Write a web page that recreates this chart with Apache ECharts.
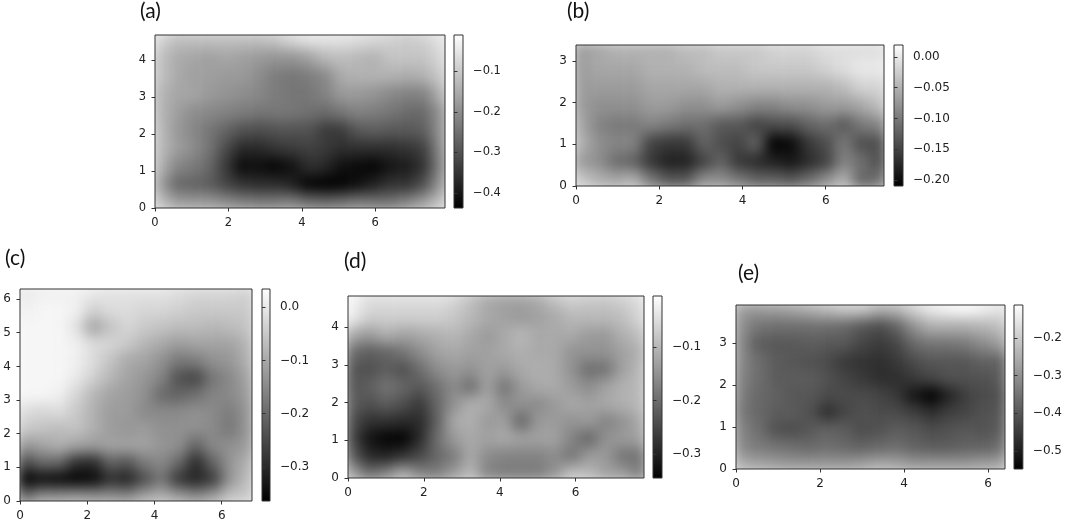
<!DOCTYPE html>
<html>
<head>
<meta charset="utf-8">
<style>
  html, body { margin: 0; padding: 0; background: #fff; }
  #main { width: 1065px; height: 523px; }
</style>
<script src="https://cdn.jsdelivr.net/npm/echarts@6/dist/echarts.min.js"></script>
</head>
<body>
<div id="main"></div>
<script>
// rows run from the top of each panel down to y = 0
const valuesA = [
  [-.08,-.12,-.12,-.12,-.12,-.12,-.12,-.11,-.08,-.06,-.06,-.06,-.07,-.08,-.09,-.10,-.09,-.06],
  [-.11,-.15,-.16,-.17,-.16,-.17,-.18,-.19,-.19,-.17,-.13,-.12,-.13,-.14,-.11,-.11,-.11,-.08],
  [-.11,-.15,-.17,-.17,-.18,-.18,-.20,-.23,-.24,-.23,-.21,-.15,-.14,-.14,-.14,-.15,-.14,-.10],
  [-.13,-.16,-.16,-.18,-.19,-.20,-.21,-.23,-.24,-.24,-.22,-.18,-.18,-.19,-.21,-.22,-.22,-.14],
  [-.13,-.17,-.20,-.21,-.22,-.23,-.24,-.24,-.24,-.25,-.26,-.24,-.22,-.23,-.24,-.26,-.26,-.19],
  [-.12,-.18,-.21,-.24,-.27,-.30,-.31,-.30,-.30,-.30,-.34,-.34,-.29,-.28,-.29,-.29,-.28,-.19],
  [-.12,-.17,-.20,-.24,-.31,-.37,-.37,-.35,-.34,-.33,-.34,-.36,-.36,-.36,-.36,-.35,-.33,-.20],
  [-.13,-.21,-.23,-.26,-.34,-.42,-.41,-.43,-.41,-.36,-.37,-.41,-.42,-.43,-.40,-.39,-.35,-.21],
  [-.16,-.26,-.27,-.28,-.32,-.35,-.36,-.36,-.38,-.43,-.44,-.43,-.41,-.38,-.35,-.35,-.30,-.18],
  [-.11,-.17,-.18,-.18,-.20,-.22,-.23,-.23,-.22,-.25,-.26,-.25,-.23,-.24,-.24,-.21,-.17,-.11]
];
const valuesB = [
  [-.07,-.06,-.05,-.05,-.05,-.05,-.04,-.04,-.03,-.03,-.03,-.02,-.02,-.02,-.01,-.01,-.01,-.01],
  [-.07,-.06,-.06,-.06,-.05,-.05,-.05,-.04,-.04,-.04,-.03,-.03,-.03,-.03,-.02,-.01,.00,.00],
  [-.07,-.07,-.07,-.07,-.06,-.06,-.06,-.06,-.05,-.05,-.05,-.05,-.05,-.05,-.05,-.04,-.02,-.02],
  [-.07,-.08,-.08,-.08,-.07,-.07,-.08,-.08,-.07,-.08,-.09,-.09,-.08,-.08,-.07,-.07,-.06,-.04],
  [-.06,-.09,-.10,-.10,-.09,-.10,-.11,-.11,-.13,-.13,-.15,-.14,-.14,-.12,-.11,-.13,-.10,-.09],
  [-.05,-.08,-.09,-.09,-.15,-.16,-.16,-.12,-.14,-.15,-.12,-.21,-.20,-.16,-.14,-.10,-.14,-.14],
  [-.07,-.08,-.11,-.12,-.16,-.18,-.18,-.15,-.12,-.16,-.17,-.18,-.19,-.17,-.15,-.09,-.11,-.14],
  [-.03,-.05,-.06,-.05,-.10,-.13,-.13,-.08,-.08,-.10,-.12,-.12,-.13,-.11,-.08,-.05,-.12,-.11]
];
const valuesC = [
  [.00,.01,.01,.01,.00,-.01,-.01,-.01,-.01,-.02,-.03,-.03,-.03,-.04],
  [.01,.02,.02,.01,-.04,-.02,-.02,-.03,-.03,-.04,-.05,-.05,-.05,-.05],
  [.02,.02,.02,-.01,-.11,-.06,-.03,-.05,-.06,-.07,-.07,-.08,-.07,-.06],
  [.02,.02,.02,.01,-.02,-.03,-.05,-.08,-.10,-.12,-.11,-.11,-.11,-.08],
  [.02,.02,.02,.01,-.02,-.06,-.10,-.11,-.14,-.18,-.17,-.14,-.13,-.09],
  [.02,.02,.02,.00,-.04,-.08,-.11,-.13,-.16,-.24,-.26,-.18,-.15,-.11],
  [.02,.02,.01,-.03,-.08,-.11,-.12,-.14,-.20,-.21,-.19,-.16,-.15,-.12],
  [-.02,-.03,-.02,-.05,-.09,-.12,-.12,-.15,-.15,-.15,-.14,-.15,-.17,-.13],
  [-.05,-.06,-.07,-.06,-.09,-.12,-.13,-.12,-.14,-.14,-.14,-.15,-.18,-.13],
  [-.13,-.11,-.09,-.11,-.12,-.11,-.11,-.11,-.13,-.14,-.21,-.15,-.14,-.12],
  [-.25,-.20,-.20,-.29,-.30,-.21,-.23,-.17,-.15,-.20,-.30,-.21,-.13,-.09],
  [-.36,-.34,-.35,-.36,-.35,-.29,-.31,-.24,-.18,-.28,-.31,-.27,-.13,-.07],
  [-.20,-.14,-.14,-.13,-.14,-.14,-.15,-.11,-.09,-.12,-.15,-.12,-.06,-.05]
];
const valuesD = [
  [-.02,-.05,-.05,-.05,-.05,-.05,-.06,-.09,-.12,-.13,-.13,-.12,-.09,-.07,-.08,-.08,-.07,-.05],
  [-.03,-.07,-.07,-.07,-.07,-.07,-.08,-.10,-.12,-.13,-.14,-.13,-.12,-.10,-.10,-.10,-.09,-.06],
  [-.12,-.14,-.11,-.13,-.12,-.11,-.10,-.12,-.14,-.12,-.10,-.12,-.12,-.12,-.14,-.14,-.11,-.09],
  [-.20,-.22,-.21,-.19,-.16,-.13,-.12,-.13,-.13,-.12,-.11,-.12,-.12,-.15,-.15,-.15,-.13,-.11],
  [-.23,-.24,-.22,-.24,-.20,-.16,-.14,-.15,-.13,-.14,-.12,-.11,-.12,-.15,-.20,-.19,-.13,-.10],
  [-.23,-.22,-.19,-.21,-.23,-.20,-.16,-.20,-.13,-.19,-.14,-.12,-.12,-.14,-.16,-.13,-.11,-.10],
  [-.22,-.24,-.22,-.24,-.27,-.21,-.15,-.11,-.12,-.16,-.15,-.16,-.14,-.12,-.13,-.12,-.11,-.10],
  [-.24,-.28,-.28,-.29,-.29,-.22,-.12,-.11,-.14,-.13,-.21,-.14,-.14,-.15,-.14,-.17,-.15,-.12],
  [-.25,-.32,-.34,-.36,-.29,-.20,-.14,-.12,-.13,-.12,-.13,-.13,-.13,-.17,-.21,-.15,-.14,-.13],
  [-.22,-.29,-.30,-.28,-.25,-.21,-.18,-.12,-.16,-.17,-.17,-.17,-.16,-.19,-.14,-.14,-.19,-.19],
  [-.13,-.20,-.17,-.12,-.17,-.18,-.14,-.10,-.17,-.18,-.18,-.18,-.15,-.09,-.10,-.13,-.14,-.18]
];
const valuesE = [
  [-.28,-.29,-.28,-.27,-.25,-.23,-.21,-.21,-.25,-.24,-.19,-.15,-.13,-.12,-.14,-.16],
  [-.30,-.35,-.36,-.36,-.36,-.36,-.37,-.40,-.42,-.38,-.30,-.25,-.25,-.25,-.24,-.22],
  [-.31,-.39,-.40,-.40,-.39,-.40,-.40,-.43,-.45,-.43,-.37,-.35,-.35,-.34,-.31,-.28],
  [-.31,-.36,-.39,-.40,-.41,-.42,-.45,-.46,-.47,-.45,-.42,-.40,-.40,-.40,-.38,-.38],
  [-.32,-.36,-.39,-.39,-.39,-.41,-.43,-.45,-.47,-.47,-.45,-.43,-.41,-.41,-.41,-.39],
  [-.33,-.37,-.38,-.40,-.40,-.42,-.42,-.42,-.43,-.45,-.51,-.55,-.49,-.44,-.42,-.41],
  [-.34,-.37,-.39,-.39,-.41,-.47,-.43,-.41,-.42,-.42,-.44,-.47,-.44,-.43,-.41,-.40],
  [-.32,-.36,-.41,-.42,-.40,-.38,-.39,-.42,-.41,-.39,-.40,-.42,-.41,-.40,-.41,-.39],
  [-.31,-.34,-.35,-.36,-.37,-.36,-.37,-.38,-.37,-.36,-.38,-.39,-.39,-.38,-.38,-.36],
  [-.25,-.27,-.28,-.29,-.29,-.29,-.29,-.28,-.26,-.27,-.29,-.29,-.29,-.29,-.28,-.27]
];

const labels = ['(a)', '(b)', '(c)', '(d)', '(e)'];
const allValues = [valuesA, valuesB, valuesC, valuesD, valuesE];
const xMax = [7.9, 7.4, 6.9, 7.8, 6.4];
const yMax = [4.68, 3.38, 6.3, 4.83, 3.9];
const xTicks = [[0,2,4,6], [0,2,4,6], [0,2,4,6], [0,2,4,6], [0,2,4,6]];
const yTicks = [[0,1,2,3,4], [0,1,2,3], [0,1,2,3,4,5,6], [0,1,2,3,4], [0,1,2,3]];
const barMin = [-.437, -.21, -.364, -.345, -.548];
const barMax = [-.011, .0195, .034, -.005, -.112];
const barTicks = [
  [-.1,-.2,-.3,-.4],
  [0,-.05,-.1,-.15,-.2],
  [0,-.1,-.2,-.3],
  [-.1,-.2,-.3],
  [-.2,-.3,-.4,-.5]
];
const barDigits = [1, 2, 1, 1, 1];

// [left, top, width, height] of each panel and where things sit
const boxes = [[155,35,290,173], [576,45,308,141], [20,289,232,212], [348,296,296,182], [736,305,269,164]];
const barBoxes = [[454,9], [894,9], [262,8], [653,9], [1014,9]];
const labelPos = [[140,1], [567,1], [5,248], [344,251], [738,263]];
const fontSizes = [11.5, 12, 12, 12, 12];
const heatBleed = 4; // heatmap runs a little past the frame so the blur does not wash the edges

const axisLine = { show: false };
const barFill = new echarts.graphic.LinearGradient(0, 1, 0, 0, [
  { offset: 0, color: '#000' }, { offset: 1, color: '#fff' }
]);

const grid = [], xAxis = [], yAxis = [], series = [], visualMap = [], title = [];

boxes.forEach((b, i) => {
  const rows = allValues[i];
  // heatmap grid on its own canvas layer, hidden category axes
  grid.push({
    left: b[0] - heatBleed, top: b[1] - heatBleed, width: b[2] + heatBleed * 2, height: b[3] + heatBleed * 2,
    show: false, zlevel: 0
  });
  xAxis.push({ type: 'category', gridIndex: grid.length - 1, show: false, data: rows[0].map((v, k) => k) });
  yAxis.push({ type: 'category', gridIndex: grid.length - 1, show: false, data: rows.map((v, k) => k) });
  const data = [];
  rows.forEach((row, r) => row.forEach((v, c) => data.push([c, rows.length - 1 - r, v])));
  series.push({
    type: 'heatmap', xAxisIndex: xAxis.length - 1, yAxisIndex: yAxis.length - 1,
    data, zlevel: 0, silent: true, progressive: 0
  });
  visualMap.push({
    type: 'continuous', seriesIndex: i, min: barMin[i], max: barMax[i], show: false,
    inRange: { color: ['#000', '#fff'] }
  });
  title.push({
    text: labels[i], left: labelPos[i][0], top: labelPos[i][1], padding: 0, zlevel: 1,
    textStyle: { fontFamily: 'Lato', fontSize: 21, fontWeight: 'normal', color: '#111' }
  });
});

boxes.forEach((b, i) => {
  const tickFont = { color: '#222', fontFamily: 'DejaVu Sans', fontSize: fontSizes[i] };
  // visible axes
  grid.push({ left: b[0], top: b[1], width: b[2], height: b[3], show: true, borderColor: '#333', borderWidth: 1, backgroundColor: 'transparent', zlevel: 1 });
  let g = grid.length - 1;
  xAxis.push({
    type: 'value', gridIndex: g, min: 0, max: xMax[i], zlevel: 1, axisLine, splitLine: { show: false },
    axisTick: { show: true, length: 3.5, customValues: xTicks[i], lineStyle: { color: '#333' } },
    axisLabel: { ...tickFont, margin: 9, customValues: xTicks[i] }
  });
  yAxis.push({
    type: 'value', gridIndex: g, min: 0, max: yMax[i], zlevel: 1, axisLine, splitLine: { show: false },
    axisTick: { show: true, length: 3.5, customValues: yTicks[i], lineStyle: { color: '#333' } },
    axisLabel: { ...tickFont, margin: 9, customValues: yTicks[i] }
  });
  // colorbar frame and ticks
  grid.push({ left: barBoxes[i][0], top: b[1], width: barBoxes[i][1], height: b[3], show: true, borderColor: '#333', borderWidth: 1, backgroundColor: barFill, zlevel: 1 });
  g = grid.length - 1;
  xAxis.push({ type: 'value', gridIndex: g, show: false, min: 0, max: 1 });
  yAxis.push({
    type: 'value', gridIndex: g, position: 'right', min: barMin[i], max: barMax[i], zlevel: 1, axisLine, splitLine: { show: false },
    axisTick: { show: true, length: 3.5, customValues: barTicks[i], lineStyle: { color: '#333' } },
    axisLabel: {
      ...tickFont, margin: 10, customValues: barTicks[i],
      formatter: v => (v < 0 ? '\u2212' : '') + Math.abs(v).toFixed(barDigits[i])
    }
  });
});

const chart = echarts.init(document.getElementById('main'));
chart.setOption({ animation: false, tooltip: { show: false }, title, grid, xAxis, yAxis, series, visualMap });

// soften the read-off cells, only inside the panels
const heatLayer = document.querySelector('canvas[data-zr-dom-id="zr_0"]');
if (heatLayer) {
  const clip = boxes.map(b => `M${b[0]} ${b[1]}h${b[2]}v${b[3]}h${-b[2]}Z`).join('');
  heatLayer.style.filter = 'blur(7px)';
  heatLayer.style.clipPath = `path('${clip}')`;
}
</script>
</body>
</html>
